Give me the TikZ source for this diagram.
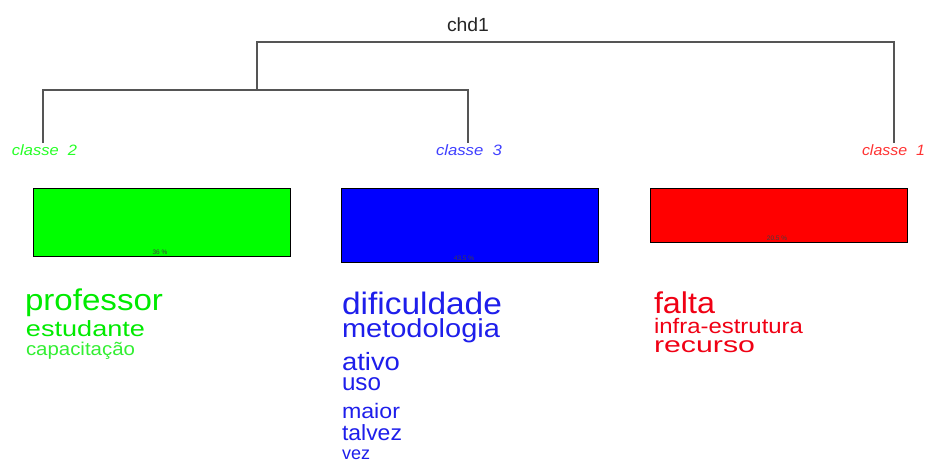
\documentclass[tikz,border=0pt]{standalone}
\usepackage{fontspec}
\setmainfont{Liberation Sans}
\definecolor{gword}{RGB}{0,235,0}
\definecolor{bword}{RGB}{30,30,235}
\definecolor{rword}{RGB}{240,0,20}
\definecolor{gbox}{RGB}{0,255,0}
\definecolor{bbox}{RGB}{0,0,255}
\definecolor{rbox}{RGB}{255,0,0}
\definecolor{dline}{RGB}{85,85,85}
\newcommand{\wordw}[3]{\resizebox{#1pt}{\height}{\fontsize{#2}{#2}\selectfont #3}}
\begin{document}
\begin{tikzpicture}[x=1pt,y=-1pt,
  word/.style={anchor=base west, inner sep=0pt, outer sep=0pt},
  dendro/.style={draw=dline, line width=1.4pt},
  clabel/.style={anchor=base, inner sep=0pt, outer sep=0pt, font=\itshape},
  classbox/.style={draw=black, line width=0.8pt},
  pct/.style={anchor=base, inner sep=0pt, font=\fontsize{6.5}{6.5}\selectfont, text=black!75}]
\fill[white] (0,0) rectangle (927,460);
\useasboundingbox (0,0) rectangle (927,460);
% title
\node[word, text=black!85] (title) at (447,32) {\wordw{42}{19}{chd1}};
% dendrogram coordinates
\coordinate (top1) at (257,42);
\coordinate (top2) at (894,42);
\coordinate (mid1) at (43,90);
\coordinate (mid2) at (468,90);
\coordinate (midc) at (257,90);
\coordinate (e2) at (43,143);
\coordinate (e3) at (468,143);
\coordinate (e1) at (894,143);
\draw[dendro] (midc) -- (top1) -- (top2) -- (e1);
\draw[dendro] (e2) -- (mid1) -- (mid2) -- (e3);
% class labels
\node[clabel, text=gbox!85!white] (c2) at (44.5,155) {\resizebox{65pt}{\height}{\fontsize{15}{15}\selectfont classe\ \ 2}};
\node[clabel, text=bbox!75!white] (c3) at (469,155) {\resizebox{66pt}{\height}{\fontsize{15}{15}\selectfont classe\ \ 3}};
\node[clabel, text=rbox!80!white] (c1) at (893.5,155) {\resizebox{63pt}{\height}{\fontsize{15}{15}\selectfont classe\ \ 1}};
% boxes
\filldraw[classbox, fill=gbox] (33,188) rectangle (290,256);
\filldraw[classbox, fill=bbox] (341,188) rectangle (598,262);
\filldraw[classbox, fill=rbox] (650,188) rectangle (907,242);
\node[pct] (p2) at (160,254) {36 \%};
\node[pct] (p3) at (464,260) {43.5 \%};
\node[pct] (p1) at (777,240) {20.5 \%};
% green words
\node[word, text=gword] (w21) at (25,310) {\wordw{138}{30}{professor}};
\node[word, text=gword] (w22) at (26,336) {\wordw{119}{22}{estudante}};
\node[word, text=gword!80!white] (w23) at (26,355) {\wordw{109}{18.5}{capacitação}};
% blue words
\node[word, text=bword] (w31) at (342,314) {\wordw{160}{31}{dificuldade}};
\node[word, text=bword] (w32) at (342,337) {\wordw{158}{26}{metodologia}};
\node[word, text=bword] (w33) at (342,370) {\wordw{58}{25}{ativo}};
\node[word, text=bword] (w34) at (342,390) {\wordw{39}{24}{uso}};
\node[word, text=bword] (w35) at (342,418) {\wordw{58}{21}{maior}};
\node[word, text=bword] (w36) at (342,440) {\wordw{60}{22}{talvez}};
\node[word, text=bword] (w37) at (342,459) {\wordw{28}{18}{vez}};
% red words
\node[word, text=rword] (w11) at (654,313) {\wordw{61}{30}{falta}};
\node[word, text=rword] (w12) at (654,333) {\wordw{149}{21}{infra-estrutura}};
\node[word, text=rword] (w13) at (654,352) {\wordw{101}{22}{recurso}};
\end{tikzpicture}
\end{document}
